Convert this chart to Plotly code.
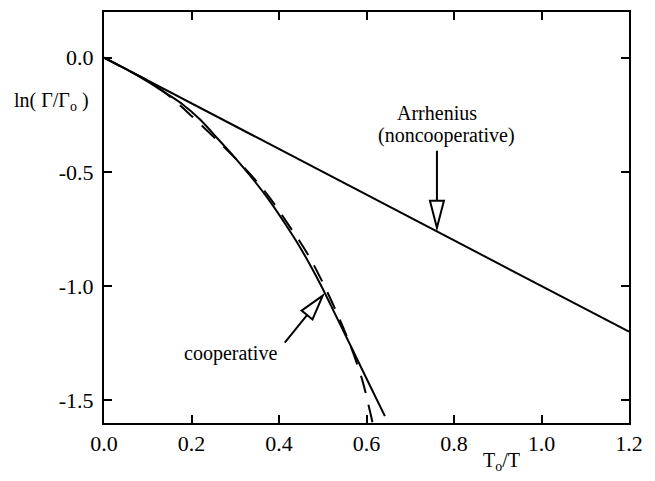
import math
import plotly.graph_objects as go

# ---- data ----
arr_x = [0.0, 0.4, 0.8, 1.2]
arr_y = [0.0, -0.4, -0.8, -1.2]

coop_x = [0, 0.06, 0.10, 0.135, 0.18, 0.219, 0.26, 0.30, 0.334, 0.372, 0.409, 0.448, 0.494, 0.53, 0.562, 0.60, 0.642]
coop_y = [0, -0.06, -0.105, -0.148, -0.205, -0.27, -0.355, -0.44, -0.517, -0.61, -0.713, -0.83, -0.99, -1.13, -1.255, -1.405, -1.57]

fit_x = [0, 0.06, 0.10, 0.144, 0.2, 0.272, 0.32, 0.372, 0.421, 0.464, 0.5, 0.535, 0.562, 0.59, 0.608, 0.614]
fit_y = [0, -0.06, -0.10, -0.16, -0.255, -0.387, -0.48, -0.596, -0.73, -0.855, -0.985, -1.13, -1.255, -1.41, -1.55, -1.60]

x_ticks = [0.0, 0.2, 0.4, 0.6, 0.8, 1.0, 1.2]
y_ticks = [0.0, -0.5, -1.0, -1.5]

FONT = "Liberation Serif"

fig = go.Figure()
fig.add_trace(go.Scatter(x=arr_x, y=arr_y, mode="lines",
                         line=dict(color="black", width=2), showlegend=False))
fig.add_trace(go.Scatter(x=fit_x, y=fit_y, mode="lines",
                         line=dict(color="black", width=2, dash="18px,12px", shape="spline"),
                         showlegend=False))
fig.add_trace(go.Scatter(x=coop_x, y=coop_y, mode="lines",
                         line=dict(color="black", width=2, shape="spline"), showlegend=False))


def open_arrow(tip_x, tip_y, dx, dy, head_len, half_w):
    """Open-triangle arrow drawn in pixels around a data anchor; (dx,dy) = tail offset (screen px, y down)."""
    L = math.hypot(dx, dy)
    ux, uy = dx / L, -dy / L
    px, py = uy, -ux
    bx, by = ux * head_len, uy * head_len
    c1 = (bx + px * half_w, by + py * half_w)
    c2 = (bx - px * half_w, by - py * half_w)
    path = (f"M0,0 L{c1[0]:.2f},{c1[1]:.2f} L{c2[0]:.2f},{c2[1]:.2f} Z "
            f"M{bx:.2f},{by:.2f} L{dx:.2f},{-dy:.2f}")
    fig.add_shape(type="path", xref="x", yref="y", xsizemode="pixel", ysizemode="pixel",
                  xanchor=tip_x, yanchor=tip_y, path=path,
                  line=dict(color="black", width=2), fillcolor="white", layer="above")


open_arrow(0.761, -0.745, 0, -77, 27, 7)
open_arrow(0.50, -1.042, -38, 47, 25, 7)

txt = dict(family=FONT, size=20, color="black")
fig.add_annotation(x=0.761, y=-0.244, xref="x", yref="y", text="Arrhenius",
                   showarrow=False, font=txt)
fig.add_annotation(x=0.782, y=-0.342, xref="x", yref="y", text="(noncooperative)",
                   showarrow=False, font=txt)
fig.add_annotation(x=0.290, y=-1.295, xref="x", yref="y", text="cooperative",
                   showarrow=False, font=txt)
fig.add_annotation(x=-0.175, y=0.782, xref="paper", yref="paper", xanchor="left",
                   yanchor="middle", text="ln( Γ/Γ<sub>o</sub> )", showarrow=False, font=txt)
fig.add_annotation(x=0.758, y=-0.094, xref="paper", yref="paper", xanchor="center",
                   yanchor="middle", text="T<sub>o</sub>/T", showarrow=False, font=txt)

axis_common = dict(showgrid=False, zeroline=False, showline=True, linecolor="black",
                   linewidth=2, mirror="ticks", ticks="inside", ticklen=8, tickwidth=2,
                   tickcolor="black", tickfont=dict(family=FONT, size=22, color="black"))

fig.update_xaxes(range=[0, 1.2], tickvals=x_ticks, ticktext=[f"{v:.1f}" for v in x_ticks],
                 **axis_common)
fig.update_yaxes(range=[-1.6, 0.2], tickvals=y_ticks, ticktext=[f"{v:.1f}" for v in y_ticks],
                 ticklabelstandoff=4, **axis_common)

# page has an 8px body margin, so the figure is offset by 8px
fig.update_layout(width=647, height=473, margin=dict(l=96, r=26, t=2, b=58),
                  plot_bgcolor="white", paper_bgcolor="white", showlegend=False)

fig.write_html("out.html")
